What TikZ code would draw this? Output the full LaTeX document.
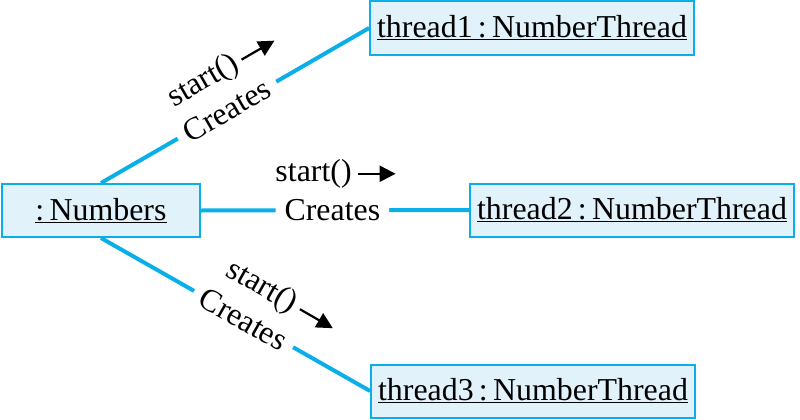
\documentclass[tikz,border=0pt]{standalone}
\usepackage{fontspec}
\setmainfont{Liberation Serif}
\usetikzlibrary{arrows.meta}
\definecolor{umlcyan}{HTML}{0AAFEA}
\definecolor{umlfill}{HTML}{E1F2FB}
\tikzset{
  objbox/.style={draw=umlcyan, fill=umlfill, line width=2bp, minimum height=53bp, inner xsep=7bp},
  link/.style={umlcyan, line width=4bp},
  creates/.style={sloped, fill=white, text=black, inner xsep=9bp, inner ysep=1bp},
  msglabel/.style={sloped, above=20bp, text=black, inner sep=0pt},
  msg/.style={-{Triangle[length=16bp,width=16bp]}, line width=2.2bp, shorten <=4bp}
}
\begin{document}
\begin{tikzpicture}[x=1bp,y=1bp,font=\fontsize{32}{38}\selectfont]
  \useasboundingbox (0,0) rectangle (800,419);
  \node[objbox,minimum width=198bp] (numbers) at (101,208.5) {\underline{:\,Numbers}};
  \foreach \n/\x/\y in {1/532/391,2/632/209,3/533/28}
    \node[objbox] (thread\n) at (\x,\y) {\underline{thread\n\,:\,NumberThread}};
  \draw[link] (numbers.north) -- node[creates,pos=.47] {Creates} node[msglabel,pos=.45] (s1) {start()} (thread1.west);
  \draw[link] (numbers.east) -- node[creates,pos=.49] {Creates} node[msglabel,pos=.42] (s2) {start()} (thread2.west);
  \draw[link] (numbers.south) -- node[creates,pos=.53] {Creates} node[msglabel,pos=.53] (s3) {start()} (thread3.west);
  \foreach \n/\a in {1/30,2/0,3/-30}
    \draw[msg] (s\n.east) -- ++(\a:42);
\end{tikzpicture}
\end{document}
